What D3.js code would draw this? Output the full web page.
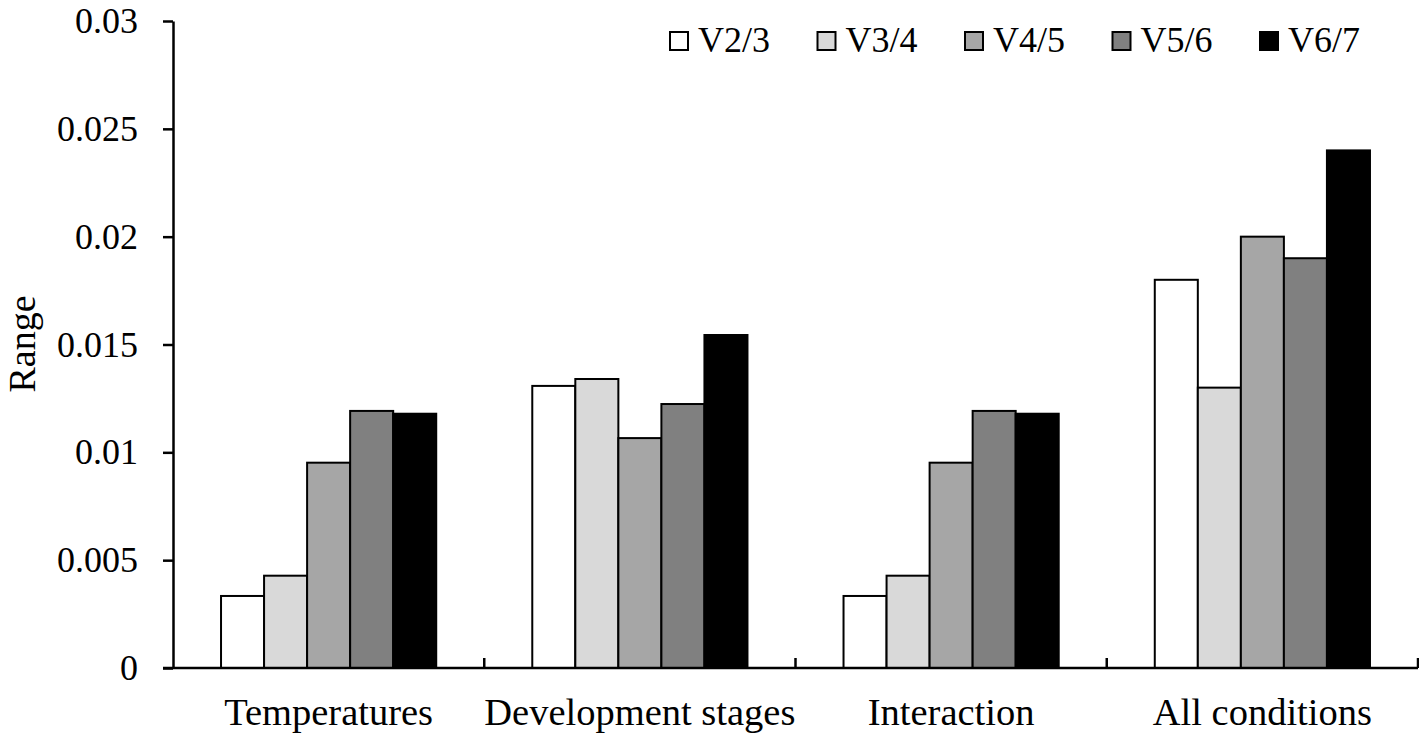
<!DOCTYPE html>
<html>
<head>
<meta charset="utf-8">
<script src="https://cdn.jsdelivr.net/npm/d3@7"></script>
<style>
html,body{margin:0;padding:0;background:#fff;}
svg{display:block;}
svg text{font-family:"Liberation Serif","Tinos","Times New Roman","Times","DejaVu Serif",serif !important;fill:#000;}
</style>
</head>
<body>
<svg id="chart" width="1419" height="737"></svg>
<script>
const categories = ["Temperatures", "Development stages", "Interaction", "All conditions"];
const seriesNames = ["V2/3", "V3/4", "V4/5", "V5/6", "V6/7"];
const seriesColors = ["#ffffff", "#d9d9d9", "#a6a6a6", "#808080", "#000000"];
const V23 = [0.00334, 0.01308, 0.00334, 0.0180];
const V34 = [0.00428, 0.01340, 0.00428, 0.0130];
const V45 = [0.00952, 0.01066, 0.00952, 0.0200];
const V56 = [0.01192, 0.01224, 0.01192, 0.0190];
const V67 = [0.01179, 0.01544, 0.01179, 0.0240];
const seriesValues = [V23, V34, V45, V56, V67];
const yTicks = [0, 0.005, 0.01, 0.015, 0.02, 0.025, 0.03];
const yTickLabels = ["0", "0.005", "0.01", "0.015", "0.02", "0.025", "0.03"];
const yTitle = "Range";

(function () {
const svg = d3.select("#chart");
const mLeft = 173, mRight = 1418, mTop = 21, mBottom = 668;
const FONT = '"Liberation Serif", "Tinos", "Times New Roman", "DejaVu Serif", serif';

const x = d3.scaleBand().domain(categories).range([mLeft, mRight]).paddingInner(0).paddingOuter(0);
const xi = d3.scaleBand().domain(seriesNames).range([0, x.bandwidth()]).paddingInner(0).paddingOuter(1.116);
const y = d3.scaleLinear().domain([0, 0.03]).range([mBottom, mTop]);

// bars
seriesNames.forEach((s, si) => {
  svg.append("g").selectAll("rect").data(categories).join("rect")
    .attr("x", c => x(c) + xi(s))
    .attr("y", (c, ci) => y(seriesValues[si][ci]))
    .attr("width", xi.bandwidth())
    .attr("height", (c, ci) => y(0) - y(seriesValues[si][ci]))
    .attr("fill", seriesColors[si])
    .attr("stroke", "#000")
    .attr("stroke-width", 2);
});

// y axis
const yAxis = d3.axisLeft(y).tickValues(yTicks).tickFormat((d, i) => yTickLabels[i]).tickSize(10).tickSizeOuter(0).tickPadding(25);
const gy = svg.append("g").attr("transform", `translate(${mLeft},0)`).call(yAxis);
gy.attr("font-family", FONT).attr("font-size", 36);
gy.selectAll("path, line").attr("stroke", "#000").attr("stroke-width", 2.5);
gy.selectAll("text").attr("fill", "#000");

// x axis
const gx = svg.append("g").attr("transform", `translate(0,${mBottom})`).attr("font-family", FONT).attr("font-size", 38.5);
gx.append("line").attr("x1", mLeft - 10).attr("x2", mRight).attr("y1", 0).attr("y2", 0)
  .attr("stroke", "#000").attr("stroke-width", 2.5);
const bounds = categories.map(c => x(c) + x.bandwidth());
gx.selectAll("line.tick").data(bounds).join("line").attr("class", "tick")
  .attr("x1", d => d).attr("x2", d => d).attr("y1", 0).attr("y2", -10)
  .attr("stroke", "#000").attr("stroke-width", 2.5);
gx.selectAll("text").data(categories).join("text")
  .attr("x", c => x(c) + x.bandwidth() / 2)
  .attr("y", 57)
  .attr("text-anchor", "middle")
  .text(c => c);

// y title
svg.append("text")
  .attr("transform", "translate(35,344) rotate(-90)")
  .attr("text-anchor", "middle")
  .attr("font-family", FONT)
  .attr("font-size", 38)
  .text(yTitle);

// legend
const lg = svg.append("g").attr("font-family", FONT).attr("font-size", 36);
seriesNames.forEach((s, i) => {
  const lx = 670 + i * 147.5;
  lg.append("rect").attr("x", lx).attr("y", 32).attr("width", 18).attr("height", 18)
    .attr("fill", seriesColors[i]).attr("stroke", "#000").attr("stroke-width", 2);
  lg.append("text").attr("x", lx + 28).attr("y", 52).text(s);
});
})();
</script>
</body>
</html>
